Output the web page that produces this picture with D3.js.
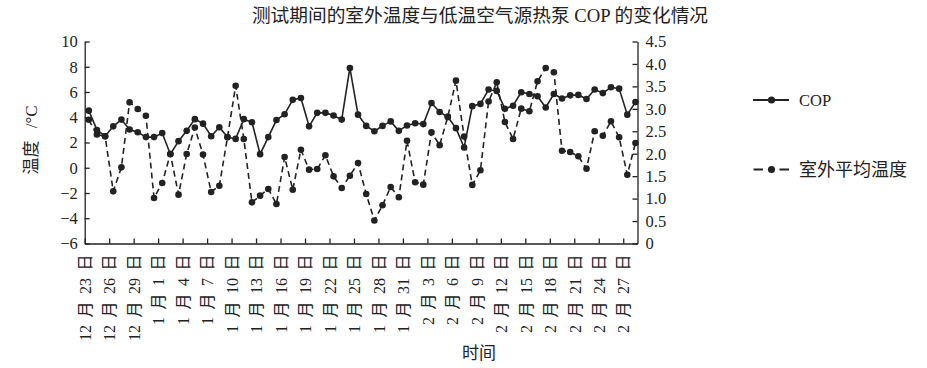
<!DOCTYPE html>
<html><head><meta charset="utf-8">
<script src="https://cdn.jsdelivr.net/npm/d3@7/dist/d3.min.js"></script>
<style>
body{margin:0;background:#fff;}
svg{display:block;}
text{font-family:'Liberation Serif','Noto Sans CJK SC',serif;fill:#222;}
</style>
</head><body><svg id="c" width="927" height="368"></svg>
<script>
const titleText = "测试期间的室外温度与低温空气源热泵 COP 的变化情况";
const tickLabels = ["12 月 23 日","12 月 26 日","12 月 29 日","1 月 1 日","1 月 4 日","1 月 7 日","1 月 10 日","1 月 13 日","1 月 16 日","1 月 19 日","1 月 22 日","1 月 25 日","1 月 28 日","1 月 31 日","2 月 3 日","2 月 6 日","2 月 9 日","2 月 12 日","2 月 15 日","2 月 18 日","2 月 21 日","2 月 24 日","2 月 27 日"];
const tickDays = [0,3,6,9,12,15,18,21,24,27,30,33,36,39,42,45,48,51,54,57,60,63,66];
const copValues = [2.96,2.53,2.39,2.61,2.76,2.54,2.48,2.37,2.37,2.46,
  1.99,2.28,2.51,2.77,2.67,2.39,2.59,2.37,2.33,2.77,
  2.70,1.99,2.37,2.75,2.88,3.20,3.24,2.61,2.91,2.91,
  2.85,2.76,3.91,2.87,2.62,2.50,2.62,2.72,2.51,2.63,
  2.68,2.66,3.13,2.93,2.82,2.57,2.14,3.06,3.11,3.43,
  3.40,3.00,3.07,3.37,3.33,3.28,3.03,3.33,3.23,3.30,
  3.31,3.22,3.43,3.35,3.48,3.45,2.87,3.15];
const tempValues = [3.8,2.63,2.5,-1.87,0.03,5.18,4.65,4.12,-2.40,-1.21,
  1.09,-2.13,1.09,3.19,1.04,-1.92,-1.42,2.41,6.50,2.28,
  -2.74,-2.21,-1.68,-2.87,0.85,-1.74,1.43,-0.15,-0.10,0.99,
  -0.68,-1.60,-0.63,0.38,-2.08,-4.18,-2.97,-1.52,-2.34,2.14,
  -1.15,-1.34,2.80,1.79,4.03,6.90,2.48,-1.36,-0.20,5.25,
  6.77,3.62,2.28,4.68,4.47,6.85,7.90,7.56,1.35,1.25,
  0.91,-0.07,2.89,2.54,3.68,2.41,-0.55,1.96];
const tempTicks = [-6,-4,-2,0,2,4,6,8,10];
const copTicks = [0,0.5,1,1.5,2,2.5,3,3.5,4,4.5];
const seriesNames = ["COP","室外平均温度"];

const svg = d3.select("#c");
const ink = "#222";
const x = d3.scaleLinear().domain([0, 67.75]).range([84.7, 637.5]);
const yT = d3.scaleLinear().domain([-6, 10]).range([243.5, 41.5]);
const yC = d3.scaleLinear().domain([0, 4.5]).range([243.5, 41.5]);

// title
svg.append("text").attr("x", 480).attr("y", 22).attr("text-anchor","middle")
  .style("font-size","18.7px").text(titleText);

// axes
const gL = svg.append("g").attr("transform", `translate(${x(0)},0)`)
  .call(d3.axisLeft(yT).tickValues(tempTicks).tickSizeInner(-5).tickSizeOuter(0).tickPadding(7));
const gR = svg.append("g").attr("transform", `translate(${x.range()[1]},0)`)
  .call(d3.axisRight(yC).tickValues(copTicks).tickSizeInner(-5).tickSizeOuter(0).tickPadding(8)
    .tickFormat(d => d === 0 ? "0" : d.toFixed(1)));
const gB = svg.append("g").attr("transform", `translate(0,${yT(-6)})`)
  .call(d3.axisBottom(x).tickValues(tickDays).tickSizeInner(-5).tickSizeOuter(0)
    .tickFormat((d,i) => tickLabels[i]));
[gL,gR,gB].forEach(g => {
  g.selectAll("path.domain").attr("stroke", ink).attr("stroke-width", 1.3);
  g.selectAll("line").attr("stroke", ink).attr("stroke-width", 1.3);
  g.selectAll("text").attr("fill", ink).style("font-family","'Liberation Serif','Noto Sans CJK SC',serif");
});
gL.selectAll("text").style("font-size","16.5px");
gR.selectAll("text").style("font-size","16.5px");
gB.selectAll("text")
  .style("font-size","16px").style("word-spacing","3.5px")
  .attr("text-anchor","end").attr("transform","rotate(-90)")
  .attr("x", -11).attr("y", 0).attr("dy","0.36em");

// axis titles
svg.append("text").attr("transform","translate(37,140) rotate(-90)").attr("text-anchor","middle")
  .style("font-size","17px").style("word-spacing","8px").text("温度 /°C");
svg.append("text").attr("x", 479).attr("y", 359).attr("text-anchor","middle")
  .style("font-size","17px").text("时间");

// series
const lineCop = d3.line().x((d,i) => x(i + 0.5)).y(d => yC(d));
const lineTemp = d3.line().x((d,i) => x(i + 0.5)).y(d => yT(d));
svg.append("path").datum(tempValues).attr("d", lineTemp).attr("fill","none")
  .attr("stroke", ink).attr("stroke-width", 1.6).attr("stroke-dasharray","6,4");
svg.append("path").datum(copValues).attr("d", lineCop).attr("fill","none")
  .attr("stroke", ink).attr("stroke-width", 1.6);
svg.append("g").selectAll("circle").data(tempValues).join("circle")
  .attr("cx",(d,i)=>x(i+0.5)).attr("cy",d=>yT(d)).attr("r",3.3).attr("fill",ink);
svg.append("g").selectAll("circle").data(copValues).join("circle")
  .attr("cx",(d,i)=>x(i+0.5)).attr("cy",d=>yC(d)).attr("r",3.3).attr("fill",ink);

// legend
const lg = svg.append("g");
lg.append("line").attr("x1",753).attr("x2",789).attr("y1",100).attr("y2",100).attr("stroke",ink).attr("stroke-width",1.8);
lg.append("circle").attr("cx",771.5).attr("cy",100).attr("r",3.6).attr("fill",ink);
lg.append("text").attr("x",799).attr("y",105.5).style("font-size","16.5px").text(seriesNames[0]);
lg.append("line").attr("x1",753.5).attr("x2",789).attr("y1",169.5).attr("y2",169.5).attr("stroke",ink).attr("stroke-width",1.8).attr("stroke-dasharray","9.5,16.5");
lg.append("circle").attr("cx",771.5).attr("cy",169.5).attr("r",3.6).attr("fill",ink);
lg.append("text").attr("x",799).attr("y",176).style("font-size","18px").text(seriesNames[1]);
</script>
</body></html>
